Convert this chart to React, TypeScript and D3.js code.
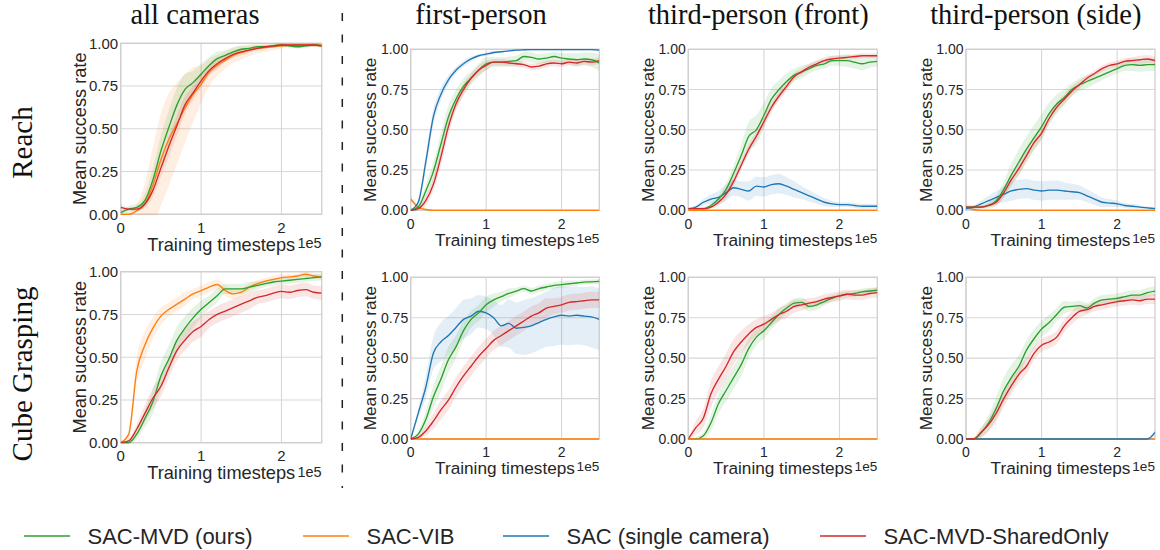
import * as React from 'react';
import * as d3 from 'd3';

// x positions of the logged points, in units of 1e5 timesteps
const steps = [0, 0.1, 0.2, 0.3, 0.4, 0.5, 0.6, 0.7, 0.8, 0.9, 1.0, 1.1, 1.2, 1.3, 1.4, 1.5, 1.6, 1.7, 1.8, 1.9, 2.0, 2.1, 2.2, 2.3, 2.4, 2.5];
const xTicks = [0, 1, 2];
const yTicks = [0, 0.25, 0.5, 0.75, 1];
const yTickLabels = ['0.00', '0.25', '0.50', '0.75', '1.00'];
const columnTitles = ['all cameras', 'first-person', 'third-person (front)', 'third-person (side)'];
const rowTitles = ['Reach', 'Cube Grasping'];
const methodKeys = ['mvd', 'vib', 'sac', 'shared'];
const methodNames = ['SAC-MVD (ours)', 'SAC-VIB', 'SAC (single camera)', 'SAC-MVD-SharedOnly'];
const methodColors = ['#2ca02c', '#ff7f0e', '#1f77b4', '#d62728'];

const zeros = [0, 0, 0, 0, 0, 0, 0, 0, 0, 0, 0, 0, 0, 0, 0, 0, 0, 0, 0, 0, 0, 0, 0, 0, 0, 0];
const zerosSd = [0.004, 0.004, 0.004, 0.004, 0.004, 0.004, 0.004, 0.004, 0.004, 0.004, 0.004, 0.004, 0.004, 0.004, 0.004, 0.004, 0.004, 0.004, 0.004, 0.004, 0.004, 0.004, 0.004, 0.004, 0.004, 0.004];

// Reach / all cameras
const reachAllMvd = [0.01, 0.03, 0.04, 0.08, 0.2, 0.37, 0.51, 0.64, 0.73, 0.77, 0.82, 0.87, 0.91, 0.93, 0.95, 0.965, 0.97, 0.98, 0.98, 0.985, 0.99, 0.985, 0.98, 0.985, 0.99, 0.985];
const reachAllMvdSd = [0.01, 0.02, 0.02, 0.04, 0.07, 0.09, 0.1, 0.1, 0.09, 0.07, 0.06, 0.05, 0.04, 0.03, 0.025, 0.02, 0.015, 0.01, 0.01, 0.01, 0.01, 0.01, 0.01, 0.01, 0.01, 0.01];
const reachAllVib = [0, 0, 0.02, 0.06, 0.17, 0.32, 0.44, 0.53, 0.62, 0.7, 0.76, 0.83, 0.87, 0.9, 0.93, 0.945, 0.96, 0.97, 0.975, 0.98, 0.985, 0.99, 0.99, 0.99, 0.99, 0.99];
const reachAllVibSd = [0.01, 0.01, 0.04, 0.12, 0.22, 0.27, 0.27, 0.24, 0.2, 0.16, 0.11, 0.08, 0.06, 0.05, 0.045, 0.04, 0.035, 0.03, 0.025, 0.02, 0.015, 0.01, 0.01, 0.01, 0.01, 0.01];
const reachAllShared = [0.04, 0.03, 0.03, 0.06, 0.14, 0.27, 0.4, 0.52, 0.64, 0.71, 0.78, 0.84, 0.88, 0.91, 0.935, 0.95, 0.96, 0.97, 0.98, 0.985, 0.99, 0.99, 0.99, 0.99, 0.99, 0.985];
const reachAllSharedSd = [0.02, 0.01, 0.01, 0.02, 0.04, 0.05, 0.06, 0.06, 0.05, 0.04, 0.04, 0.03, 0.03, 0.02, 0.02, 0.02, 0.015, 0.01, 0.01, 0.01, 0.01, 0.01, 0.01, 0.01, 0.01, 0.01];

// Reach / first-person
const reachFirstMvd = [0, 0.02, 0.12, 0.24, 0.41, 0.58, 0.69, 0.77, 0.82, 0.87, 0.91, 0.92, 0.92, 0.925, 0.93, 0.955, 0.95, 0.94, 0.945, 0.955, 0.945, 0.94, 0.935, 0.94, 0.935, 0.915];
const reachFirstMvdSd = [0.01, 0.02, 0.04, 0.06, 0.07, 0.07, 0.06, 0.05, 0.04, 0.04, 0.04, 0.03, 0.03, 0.03, 0.03, 0.03, 0.03, 0.03, 0.03, 0.03, 0.03, 0.035, 0.04, 0.04, 0.045, 0.05];
const reachFirstVib = [0.07, 0.02, 0.005, 0, 0, 0, 0, 0, 0, 0, 0, 0, 0, 0, 0, 0, 0, 0, 0, 0, 0, 0, 0, 0, 0, 0];
const reachFirstVibSd = [0.02, 0.01, 0.005, 0.004, 0.004, 0.004, 0.004, 0.004, 0.004, 0.004, 0.004, 0.004, 0.004, 0.004, 0.004, 0.004, 0.004, 0.004, 0.004, 0.004, 0.004, 0.004, 0.004, 0.004, 0.004, 0.004];
const reachFirstSac = [0, 0.05, 0.3, 0.58, 0.72, 0.81, 0.87, 0.91, 0.94, 0.96, 0.97, 0.98, 0.985, 0.99, 0.995, 0.997, 0.998, 0.998, 0.998, 0.998, 0.998, 0.998, 0.998, 0.998, 0.998, 0.995];
const reachFirstSacSd = [0.005, 0.02, 0.05, 0.05, 0.04, 0.03, 0.02, 0.02, 0.015, 0.01, 0.01, 0.01, 0.005, 0.005, 0.005, 0.005, 0.005, 0.005, 0.005, 0.005, 0.005, 0.005, 0.005, 0.005, 0.005, 0.005];
const reachFirstShared = [0, 0.01, 0.06, 0.16, 0.33, 0.52, 0.66, 0.75, 0.82, 0.87, 0.9, 0.92, 0.92, 0.915, 0.91, 0.905, 0.89, 0.895, 0.91, 0.915, 0.91, 0.92, 0.915, 0.925, 0.92, 0.93];
const reachFirstSharedSd = [0.01, 0.01, 0.03, 0.04, 0.05, 0.05, 0.04, 0.04, 0.03, 0.03, 0.03, 0.02, 0.02, 0.02, 0.02, 0.02, 0.02, 0.02, 0.02, 0.02, 0.02, 0.02, 0.02, 0.02, 0.02, 0.02];

// Reach / third-person (front)
const reachFrontMvd = [0.01, 0.01, 0.01, 0.03, 0.07, 0.13, 0.23, 0.34, 0.46, 0.5, 0.59, 0.69, 0.75, 0.8, 0.84, 0.86, 0.88, 0.9, 0.91, 0.93, 0.93, 0.93, 0.92, 0.91, 0.92, 0.925];
const reachFrontMvdSd = [0.005, 0.005, 0.01, 0.015, 0.02, 0.04, 0.05, 0.07, 0.09, 0.09, 0.08, 0.07, 0.06, 0.05, 0.04, 0.04, 0.03, 0.03, 0.03, 0.03, 0.035, 0.04, 0.04, 0.04, 0.035, 0.03];
const reachFrontSac = [0.01, 0.02, 0.05, 0.07, 0.08, 0.11, 0.14, 0.13, 0.12, 0.15, 0.145, 0.16, 0.165, 0.15, 0.13, 0.11, 0.09, 0.07, 0.05, 0.04, 0.035, 0.035, 0.03, 0.025, 0.025, 0.025];
const reachFrontSacSd = [0.01, 0.01, 0.02, 0.03, 0.04, 0.05, 0.05, 0.05, 0.06, 0.06, 0.06, 0.06, 0.06, 0.055, 0.05, 0.04, 0.035, 0.03, 0.025, 0.02, 0.015, 0.015, 0.015, 0.015, 0.015, 0.015];
const reachFrontShared = [0.01, 0.01, 0.01, 0.02, 0.05, 0.1, 0.18, 0.28, 0.38, 0.46, 0.55, 0.64, 0.71, 0.77, 0.83, 0.86, 0.89, 0.91, 0.93, 0.94, 0.945, 0.95, 0.955, 0.96, 0.96, 0.96];
const reachFrontSharedSd = [0.005, 0.005, 0.01, 0.01, 0.02, 0.03, 0.03, 0.03, 0.03, 0.03, 0.03, 0.03, 0.03, 0.03, 0.025, 0.02, 0.02, 0.02, 0.02, 0.02, 0.015, 0.015, 0.015, 0.015, 0.015, 0.015];

// Reach / third-person (side)
const reachSideMvd = [0.02, 0.02, 0.02, 0.03, 0.06, 0.13, 0.22, 0.3, 0.38, 0.45, 0.52, 0.6, 0.66, 0.7, 0.75, 0.78, 0.8, 0.82, 0.84, 0.86, 0.88, 0.9, 0.905, 0.9, 0.905, 0.905];
const reachSideMvdSd = [0.01, 0.01, 0.01, 0.02, 0.03, 0.05, 0.07, 0.08, 0.08, 0.08, 0.08, 0.07, 0.06, 0.05, 0.04, 0.04, 0.04, 0.035, 0.03, 0.03, 0.03, 0.035, 0.04, 0.04, 0.04, 0.04];
const reachSideVib = [0.02, 0.005, 0, 0, 0, 0, 0, 0, 0, 0, 0, 0, 0, 0, 0, 0, 0, 0, 0, 0, 0, 0, 0, 0, 0, 0];
const reachSideVibSd = [0.015, 0.005, 0.004, 0.004, 0.004, 0.004, 0.004, 0.004, 0.004, 0.004, 0.004, 0.004, 0.004, 0.004, 0.004, 0.004, 0.004, 0.004, 0.004, 0.004, 0.004, 0.004, 0.004, 0.004, 0.004, 0.004];
const reachSideSac = [0.01, 0.02, 0.04, 0.06, 0.08, 0.1, 0.12, 0.13, 0.135, 0.125, 0.12, 0.125, 0.125, 0.12, 0.115, 0.11, 0.09, 0.07, 0.05, 0.045, 0.04, 0.03, 0.025, 0.02, 0.015, 0.01];
const reachSideSacSd = [0.01, 0.01, 0.02, 0.03, 0.04, 0.05, 0.06, 0.06, 0.06, 0.06, 0.06, 0.06, 0.06, 0.055, 0.05, 0.045, 0.04, 0.035, 0.03, 0.025, 0.02, 0.015, 0.015, 0.01, 0.01, 0.01];
const reachSideShared = [0.02, 0.02, 0.02, 0.03, 0.05, 0.11, 0.19, 0.26, 0.34, 0.42, 0.48, 0.57, 0.64, 0.69, 0.74, 0.78, 0.82, 0.85, 0.88, 0.9, 0.91, 0.925, 0.93, 0.935, 0.94, 0.93];
const reachSideSharedSd = [0.01, 0.01, 0.01, 0.01, 0.02, 0.03, 0.03, 0.04, 0.04, 0.04, 0.04, 0.03, 0.03, 0.03, 0.03, 0.025, 0.02, 0.02, 0.02, 0.02, 0.02, 0.02, 0.02, 0.025, 0.025, 0.025];

// Cube Grasping / all cameras
const cubeAllMvd = [0, 0, 0.05, 0.14, 0.24, 0.39, 0.49, 0.6, 0.67, 0.73, 0.78, 0.82, 0.86, 0.9, 0.9, 0.9, 0.91, 0.92, 0.93, 0.94, 0.945, 0.95, 0.955, 0.96, 0.965, 0.97];
const cubeAllMvdSd = [0, 0.01, 0.03, 0.05, 0.07, 0.08, 0.08, 0.08, 0.07, 0.06, 0.05, 0.04, 0.04, 0.03, 0.03, 0.03, 0.03, 0.025, 0.02, 0.02, 0.02, 0.02, 0.02, 0.02, 0.02, 0.02];
const cubeAllVib = [0, 0.05, 0.42, 0.57, 0.67, 0.74, 0.78, 0.81, 0.84, 0.87, 0.89, 0.91, 0.925, 0.89, 0.87, 0.88, 0.91, 0.93, 0.945, 0.955, 0.965, 0.97, 0.975, 0.985, 0.975, 0.97];
const cubeAllVibSd = [0, 0.03, 0.08, 0.08, 0.06, 0.05, 0.04, 0.04, 0.04, 0.03, 0.03, 0.03, 0.03, 0.03, 0.03, 0.025, 0.02, 0.02, 0.02, 0.02, 0.02, 0.015, 0.015, 0.015, 0.015, 0.015];
const cubeAllShared = [0, 0.01, 0.08, 0.17, 0.26, 0.33, 0.44, 0.54, 0.6, 0.65, 0.68, 0.72, 0.75, 0.77, 0.79, 0.81, 0.83, 0.85, 0.86, 0.875, 0.885, 0.88, 0.89, 0.895, 0.88, 0.875];
const cubeAllSharedSd = [0, 0.01, 0.03, 0.05, 0.06, 0.06, 0.06, 0.06, 0.06, 0.06, 0.06, 0.05, 0.05, 0.05, 0.05, 0.05, 0.05, 0.04, 0.04, 0.04, 0.04, 0.04, 0.04, 0.04, 0.04, 0.04];

// Cube Grasping / first-person
const cubeFirstMvd = [0, 0.03, 0.12, 0.26, 0.37, 0.49, 0.57, 0.67, 0.74, 0.78, 0.83, 0.86, 0.88, 0.9, 0.915, 0.93, 0.915, 0.93, 0.94, 0.95, 0.955, 0.96, 0.965, 0.97, 0.972, 0.975];
const cubeFirstMvdSd = [0, 0.02, 0.05, 0.07, 0.08, 0.08, 0.07, 0.06, 0.05, 0.05, 0.05, 0.04, 0.03, 0.03, 0.02, 0.02, 0.02, 0.02, 0.02, 0.02, 0.02, 0.02, 0.015, 0.015, 0.015, 0.015];
const cubeFirstSac = [0, 0.16, 0.32, 0.53, 0.6, 0.64, 0.69, 0.74, 0.76, 0.79, 0.78, 0.75, 0.7, 0.715, 0.685, 0.69, 0.7, 0.72, 0.74, 0.755, 0.765, 0.76, 0.765, 0.76, 0.755, 0.74];
const cubeFirstSacSd = [0, 0.03, 0.07, 0.1, 0.12, 0.12, 0.12, 0.12, 0.11, 0.1, 0.1, 0.11, 0.13, 0.15, 0.16, 0.17, 0.17, 0.17, 0.17, 0.18, 0.18, 0.18, 0.18, 0.18, 0.19, 0.19];
const cubeFirstShared = [0, 0.01, 0.05, 0.11, 0.18, 0.24, 0.32, 0.39, 0.45, 0.51, 0.56, 0.61, 0.64, 0.67, 0.7, 0.73, 0.76, 0.78, 0.81, 0.82, 0.83, 0.845, 0.85, 0.855, 0.86, 0.86];
const cubeFirstSharedSd = [0, 0.01, 0.03, 0.05, 0.06, 0.06, 0.06, 0.06, 0.06, 0.06, 0.06, 0.06, 0.06, 0.06, 0.06, 0.06, 0.06, 0.06, 0.06, 0.05, 0.05, 0.05, 0.05, 0.05, 0.05, 0.05];

// Cube Grasping / third-person (front)
const cubeFrontMvd = [0, 0, 0.02, 0.1, 0.22, 0.3, 0.38, 0.46, 0.56, 0.63, 0.67, 0.72, 0.77, 0.81, 0.84, 0.845, 0.82, 0.83, 0.85, 0.87, 0.885, 0.895, 0.9, 0.91, 0.915, 0.92];
const cubeFrontMvdSd = [0, 0.01, 0.02, 0.05, 0.06, 0.07, 0.07, 0.07, 0.06, 0.05, 0.05, 0.04, 0.04, 0.03, 0.03, 0.03, 0.03, 0.03, 0.025, 0.02, 0.02, 0.02, 0.02, 0.02, 0.02, 0.02];
const cubeFrontShared = [0, 0.07, 0.13, 0.28, 0.37, 0.45, 0.54, 0.6, 0.65, 0.69, 0.71, 0.74, 0.77, 0.79, 0.82, 0.83, 0.84, 0.85, 0.865, 0.875, 0.885, 0.895, 0.89, 0.89, 0.9, 0.905];
const cubeFrontSharedSd = [0, 0.04, 0.06, 0.08, 0.08, 0.08, 0.08, 0.07, 0.06, 0.05, 0.05, 0.04, 0.04, 0.04, 0.04, 0.035, 0.03, 0.03, 0.03, 0.03, 0.03, 0.03, 0.03, 0.03, 0.03, 0.03];

// Cube Grasping / third-person (side)
const cubeSideMvd = [0, 0, 0.04, 0.1, 0.19, 0.3, 0.38, 0.45, 0.55, 0.62, 0.68, 0.72, 0.77, 0.815, 0.82, 0.825, 0.81, 0.84, 0.86, 0.865, 0.87, 0.88, 0.89, 0.89, 0.905, 0.915];
const cubeSideMvdSd = [0, 0.01, 0.03, 0.05, 0.07, 0.08, 0.08, 0.07, 0.06, 0.06, 0.05, 0.05, 0.04, 0.04, 0.03, 0.03, 0.03, 0.03, 0.03, 0.03, 0.03, 0.03, 0.03, 0.03, 0.03, 0.03];
const cubeSideSac = [0, 0, 0, 0, 0, 0, 0, 0, 0, 0, 0, 0, 0, 0, 0, 0, 0, 0, 0, 0, 0, 0, 0, 0, 0, 0.04];
const cubeSideSacSd = [0.004, 0.004, 0.004, 0.004, 0.004, 0.004, 0.004, 0.004, 0.004, 0.004, 0.004, 0.004, 0.004, 0.004, 0.004, 0.004, 0.004, 0.004, 0.004, 0.004, 0.004, 0.004, 0.004, 0.004, 0.004, 0.02];
const cubeSideShared = [0, 0, 0.04, 0.09, 0.16, 0.25, 0.33, 0.4, 0.45, 0.53, 0.58, 0.6, 0.63, 0.7, 0.75, 0.79, 0.8, 0.82, 0.83, 0.84, 0.85, 0.855, 0.86, 0.855, 0.865, 0.865];
const cubeSideSharedSd = [0, 0.01, 0.03, 0.04, 0.05, 0.05, 0.05, 0.05, 0.05, 0.04, 0.04, 0.04, 0.04, 0.04, 0.04, 0.04, 0.03, 0.03, 0.03, 0.03, 0.03, 0.03, 0.03, 0.03, 0.03, 0.03];

type Series = { key: string; mean: number[]; sd: number[] };
type PanelSpec = { row: number; col: number; series: Series[] };

// draw order: vib, sac, mvd, shared
const panels: PanelSpec[] = [
  { row: 0, col: 0, series: [
    { key: 'vib', mean: reachAllVib, sd: reachAllVibSd },
    { key: 'mvd', mean: reachAllMvd, sd: reachAllMvdSd },
    { key: 'shared', mean: reachAllShared, sd: reachAllSharedSd },
  ] },
  { row: 0, col: 1, series: [
    { key: 'vib', mean: reachFirstVib, sd: reachFirstVibSd },
    { key: 'sac', mean: reachFirstSac, sd: reachFirstSacSd },
    { key: 'mvd', mean: reachFirstMvd, sd: reachFirstMvdSd },
    { key: 'shared', mean: reachFirstShared, sd: reachFirstSharedSd },
  ] },
  { row: 0, col: 2, series: [
    { key: 'vib', mean: zeros, sd: zerosSd },
    { key: 'sac', mean: reachFrontSac, sd: reachFrontSacSd },
    { key: 'mvd', mean: reachFrontMvd, sd: reachFrontMvdSd },
    { key: 'shared', mean: reachFrontShared, sd: reachFrontSharedSd },
  ] },
  { row: 0, col: 3, series: [
    { key: 'vib', mean: reachSideVib, sd: reachSideVibSd },
    { key: 'sac', mean: reachSideSac, sd: reachSideSacSd },
    { key: 'mvd', mean: reachSideMvd, sd: reachSideMvdSd },
    { key: 'shared', mean: reachSideShared, sd: reachSideSharedSd },
  ] },
  { row: 1, col: 0, series: [
    { key: 'vib', mean: cubeAllVib, sd: cubeAllVibSd },
    { key: 'mvd', mean: cubeAllMvd, sd: cubeAllMvdSd },
    { key: 'shared', mean: cubeAllShared, sd: cubeAllSharedSd },
  ] },
  { row: 1, col: 1, series: [
    { key: 'vib', mean: zeros, sd: zerosSd },
    { key: 'sac', mean: cubeFirstSac, sd: cubeFirstSacSd },
    { key: 'mvd', mean: cubeFirstMvd, sd: cubeFirstMvdSd },
    { key: 'shared', mean: cubeFirstShared, sd: cubeFirstSharedSd },
  ] },
  { row: 1, col: 2, series: [
    { key: 'mvd', mean: cubeFrontMvd, sd: cubeFrontMvdSd },
    { key: 'shared', mean: cubeFrontShared, sd: cubeFrontSharedSd },
    { key: 'vib', mean: zeros, sd: zerosSd },
  ] },
  { row: 1, col: 3, series: [
    { key: 'vib', mean: zeros, sd: zerosSd },
    { key: 'sac', mean: cubeSideSac, sd: cubeSideSacSd },
    { key: 'mvd', mean: cubeSideMvd, sd: cubeSideMvdSd },
    { key: 'shared', mean: cubeSideShared, sd: cubeSideSharedSd },
  ] },
];

// layout
const W = 1160;
const H = 550;
const colLeft = [120.7, 410.7, 688.3, 966];
const colRight = [321.7, 599.3, 877.3, 1155];
const bigRows = [[43.3, 214.3], [271.7, 442.7]];
const smallRows = [[49.3, 210.3], [277.3, 439]];
const titleX = [195, 481, 758.3, 1035.8];
const rowLabelY = [142.5, 374];
const legendX = [24, 303, 503, 820];
const legendY = 536;
const sans = '"Liberation Sans", Arial, sans-serif';
const serif = '"Liberation Serif", "Times New Roman", serif';
const textColor = '#262626';
const gridColor = '#d7d7d7';

const colorOf = (key: string) => methodColors[methodKeys.indexOf(key)];

function Panel({ panel }: { panel: PanelSpec }) {
  const big = panel.col === 0;
  const left = colLeft[panel.col];
  const right = colRight[panel.col];
  const [top, bottom] = (big ? bigRows : smallRows)[panel.row];
  const fs = big ? { tick: 15, label: 18.2, off: 14.5 } : { tick: 14, label: 17.2, off: 13.6 };

  const x = d3.scaleLinear().domain([0, 2.5]).range([left, right]);
  const y = d3.scaleLinear().domain([0, 1]).range([bottom, top]);
  const idx = d3.range(steps.length);
  const clipId = `clip-${panel.row}-${panel.col}`;

  const bandPath = (s: Series) =>
    d3
      .area<number>()
      .x((i) => x(steps[i]))
      .y0((i) => y(s.mean[i] - s.sd[i]))
      .y1((i) => y(s.mean[i] + s.sd[i]))
      .curve(d3.curveMonotoneX)(idx) || '';
  const linePath = (s: Series) =>
    d3
      .line<number>()
      .x((i) => x(steps[i]))
      .y((i) => y(s.mean[i]))
      .curve(d3.curveMonotoneX)(idx) || '';

  return (
    <g>
      <defs>
        <clipPath id={clipId}>
          <rect x={left} y={top - 1} width={right - left} height={bottom - top + 2} />
        </clipPath>
      </defs>
      <rect x={left} y={top} width={right - left} height={bottom - top} fill="#fff" />
      {yTicks.map((t) => (
        <line key={'gy' + t} x1={left} x2={right} y1={y(t)} y2={y(t)} stroke={gridColor} strokeWidth={1.1} />
      ))}
      {xTicks.map((t) => (
        <line key={'gx' + t} x1={x(t)} x2={x(t)} y1={top} y2={bottom} stroke={gridColor} strokeWidth={1.1} />
      ))}
      <rect x={left} y={top} width={right - left} height={bottom - top} fill="none" stroke="#cfcfcf" strokeWidth={1.3} />
      <g clipPath={`url(#${clipId})`}>
        {panel.series.map((s) => (
          <path key={'b' + s.key} d={bandPath(s)} fill={colorOf(s.key)} fillOpacity={0.12} stroke="none" />
        ))}
        {panel.series.map((s) => (
          <path key={'l' + s.key} d={linePath(s)} fill="none" stroke={colorOf(s.key)} strokeWidth={1.35} />
        ))}
      </g>
      {yTicks.map((t, i) => (
        <text key={'yt' + t} x={left - 2.5} y={y(t)} dy="0.36em" textAnchor="end" fontSize={fs.tick} fill={textColor}>
          {yTickLabels[i]}
        </text>
      ))}
      {xTicks.map((t) => (
        <text key={'xt' + t} x={x(t)} y={bottom + 13.2} dy="0.36em" textAnchor="middle" fontSize={fs.tick} fill={textColor}>
          {t}
        </text>
      ))}
      <text x={(left + right) / 2} y={bottom + (big ? 36.5 : 35.3)} textAnchor="middle" fontSize={fs.label} fill={textColor}>
        Training timesteps
      </text>
      <text x={right} y={bottom + (big ? 34 : 32.3)} textAnchor="end" fontSize={fs.off} fill={textColor}>
        1e5
      </text>
      <text
        transform={`translate(${left - 34.5},${(top + bottom) / 2}) rotate(-90)`}
        textAnchor="middle"
        fontSize={fs.label}
        fill={textColor}
      >
        Mean success rate
      </text>
    </g>
  );
}

export default function App() {
  return (
    <div style={{ position: 'absolute', left: 0, top: 0, width: W, height: H, background: '#fff' }}>
      <svg width={W} height={H} style={{ display: 'block' }} fontFamily={sans}>
        <rect width={W} height={H} fill="#fff" />
        {columnTitles.map((t, i) => (
          <text key={t} x={titleX[i]} y={24} textAnchor="middle" fontFamily={serif} fontSize={28.5} fill="#111">
            {t}
          </text>
        ))}
        {rowTitles.map((t, i) => (
          <text
            key={t}
            transform={`translate(32,${rowLabelY[i]}) rotate(-90)`}
            textAnchor="middle"
            fontFamily={serif}
            fontSize={29}
            fill="#111"
          >
            {t}
          </text>
        ))}
        <line x1={342.3} x2={342.3} y1={-8.5} y2={488} stroke="#222" strokeWidth={1.5} strokeDasharray="8,13.5" />
        {panels.map((p) => (
          <Panel key={`${p.row}-${p.col}`} panel={p} />
        ))}
        {methodNames.map((name, i) => (
          <g key={name}>
            <line x1={legendX[i]} x2={legendX[i] + 46} y1={legendY} y2={legendY} stroke={methodColors[i]} strokeWidth={1.6} />
            <text x={legendX[i] + 63.5} y={legendY} dy="0.36em" fontSize={22} fill={textColor}>
              {name}
            </text>
          </g>
        ))}
      </svg>
    </div>
  );
}
